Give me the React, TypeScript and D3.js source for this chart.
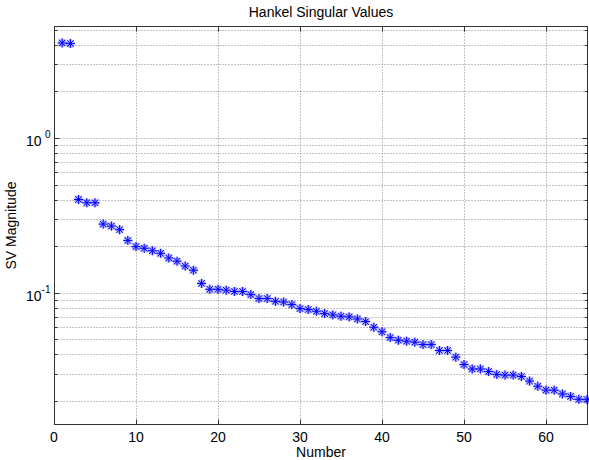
import React, { useEffect, useRef } from "react";
import * as d3 from "d3";

// Hankel singular values
const svValues = [
  4.12, 4.08, 0.401, 0.382, 0.382, 0.278, 0.27, 0.256, 0.218, 0.199,
  0.194, 0.187, 0.18, 0.168, 0.16, 0.149, 0.14, 0.115, 0.1054, 0.1054,
  0.104, 0.102, 0.102, 0.0974, 0.0918, 0.0918, 0.0881, 0.0872, 0.0839, 0.0791,
  0.078, 0.076, 0.0734, 0.072, 0.0706, 0.0699, 0.0678, 0.0652, 0.0599, 0.056,
  0.0514, 0.0494, 0.0487, 0.048, 0.0463, 0.0463, 0.0424, 0.0424, 0.0384, 0.0344,
  0.0322, 0.0322, 0.031, 0.0297, 0.0294, 0.0294, 0.0288, 0.0269, 0.0249, 0.0235,
  0.0235, 0.0222, 0.0214, 0.0205, 0.0204,
];
const xTicks = [0, 10, 20, 30, 40, 50, 60];
const xLimits = [0, 65];
const yLimits = [0.0142, 5.3];
const yMajor = [0.1, 1];
const yMajorExp = ["-1", "0"];

const W = 589;
const H = 460;
const margin = { top: 26, right: 2, bottom: 36, left: 54 };
const font = "'Liberation Sans', Arial, Helvetica, sans-serif";

const App = () => {
  const ref = useRef<SVGSVGElement>(null);

  useEffect(() => {
    const svg = d3.select(ref.current);
    svg.selectAll("*").remove();

    const x = d3
      .scaleLinear()
      .domain(xLimits)
      .range([margin.left, W - margin.right]);
    const y = d3
      .scaleLog()
      .domain(yLimits)
      .range([H - margin.bottom, margin.top]);

    const px = (v: number) => Math.round(v) + 0.5;
    const x0 = px(x(xLimits[0]));
    const x1 = px(x(xLimits[1]));
    const y0 = px(y(yLimits[0]));
    const y1 = px(y(yLimits[1]));

    // grid
    const grid = svg.append("g").attr("stroke", "#888").attr("stroke-dasharray", "1,2");
    grid
      .selectAll("line.gy")
      .data(y.ticks())
      .enter()
      .append("line")
      .attr("x1", x0)
      .attr("x2", x1)
      .attr("y1", d => px(y(d)))
      .attr("y2", d => px(y(d)));
    grid
      .selectAll("line.gx")
      .data(xTicks.filter(d => d > 0))
      .enter()
      .append("line")
      .attr("x1", d => px(x(d)))
      .attr("x2", d => px(x(d)))
      .attr("y1", y0)
      .attr("y2", y1);

    // ticks, inward like matlab
    const ticks = svg.append("g").attr("stroke", "#333");
    y.ticks().forEach(d => {
      const len = yMajor.includes(d) ? 5 : 3;
      const yy = px(y(d));
      ticks.append("line").attr("x1", x0).attr("x2", x0 + len).attr("y1", yy).attr("y2", yy);
      ticks.append("line").attr("x1", x1).attr("x2", x1 - len).attr("y1", yy).attr("y2", yy);
    });
    xTicks.forEach(d => {
      const xx = px(x(d));
      ticks.append("line").attr("x1", xx).attr("x2", xx).attr("y1", y0).attr("y2", y0 - 5);
      ticks.append("line").attr("x1", xx).attr("x2", xx).attr("y1", y1).attr("y2", y1 + 5);
    });

    // box
    svg
      .append("rect")
      .attr("x", x0)
      .attr("y", y1)
      .attr("width", x1 - x0)
      .attr("height", y0 - y1)
      .attr("fill", "none")
      .attr("stroke", "#333");

    // tick labels
    svg
      .append("g")
      .selectAll("text")
      .data(xTicks)
      .enter()
      .append("text")
      .attr("x", d => x(d))
      .attr("y", y0 + 17)
      .attr("text-anchor", "middle")
      .attr("font-size", 14)
      .text(d => d);

    const yl = svg
      .append("g")
      .selectAll("text")
      .data(yMajor)
      .enter()
      .append("text")
      .attr("x", x0 - 13)
      .attr("y", d => y(d) + 8)
      .attr("text-anchor", "end")
      .attr("font-size", 14);
    yl.append("tspan").text("10");
    yl.append("tspan")
      .attr("x", x0 - 4)
      .attr("dy", -8)
      .attr("text-anchor", "end")
      .attr("font-size", 10)
      .text((d, i) => yMajorExp[i]);

    // markers: matlab '*'
    const star = "M-4.5,0L4.5,0M0,-4.5L0,4.5M-3.2,-3.2L3.2,3.2M-3.2,3.2L3.2,-3.2";
    const marks = svg
      .append("g")
      .selectAll("g")
      .data(svValues)
      .enter()
      .append("g")
      .attr("transform", (d, i) => `translate(${x(i + 1)},${y(d)})`);
    marks
      .append("path")
      .attr("d", star)
      .attr("stroke", "#0000ff")
      .attr("stroke-opacity", 0.3)
      .attr("stroke-width", 2.6)
      .attr("fill", "none");
    marks
      .append("path")
      .attr("d", star)
      .attr("stroke", "#0000ff")
      .attr("stroke-width", 1)
      .attr("fill", "none");

    // titles
    const cx = (x0 + x1) / 2;
    svg
      .append("text")
      .attr("x", cx)
      .attr("y", 17)
      .attr("text-anchor", "middle")
      .attr("font-size", 14)
      .text("Hankel Singular Values");
    svg
      .append("text")
      .attr("x", cx)
      .attr("y", y0 + 32)
      .attr("text-anchor", "middle")
      .attr("font-size", 14)
      .text("Number");
    svg
      .append("text")
      .attr("transform", `translate(16,${(y0 + y1) / 2}) rotate(-90)`)
      .attr("text-anchor", "middle")
      .attr("font-size", 14)
      .text("SV Magnitude");
  }, []);

  return (
    <svg
      ref={ref}
      width={W}
      height={H}
      style={{ position: "absolute", left: 0, top: 0, background: "#fff", fontFamily: font }}
    />
  );
};

export default App;
